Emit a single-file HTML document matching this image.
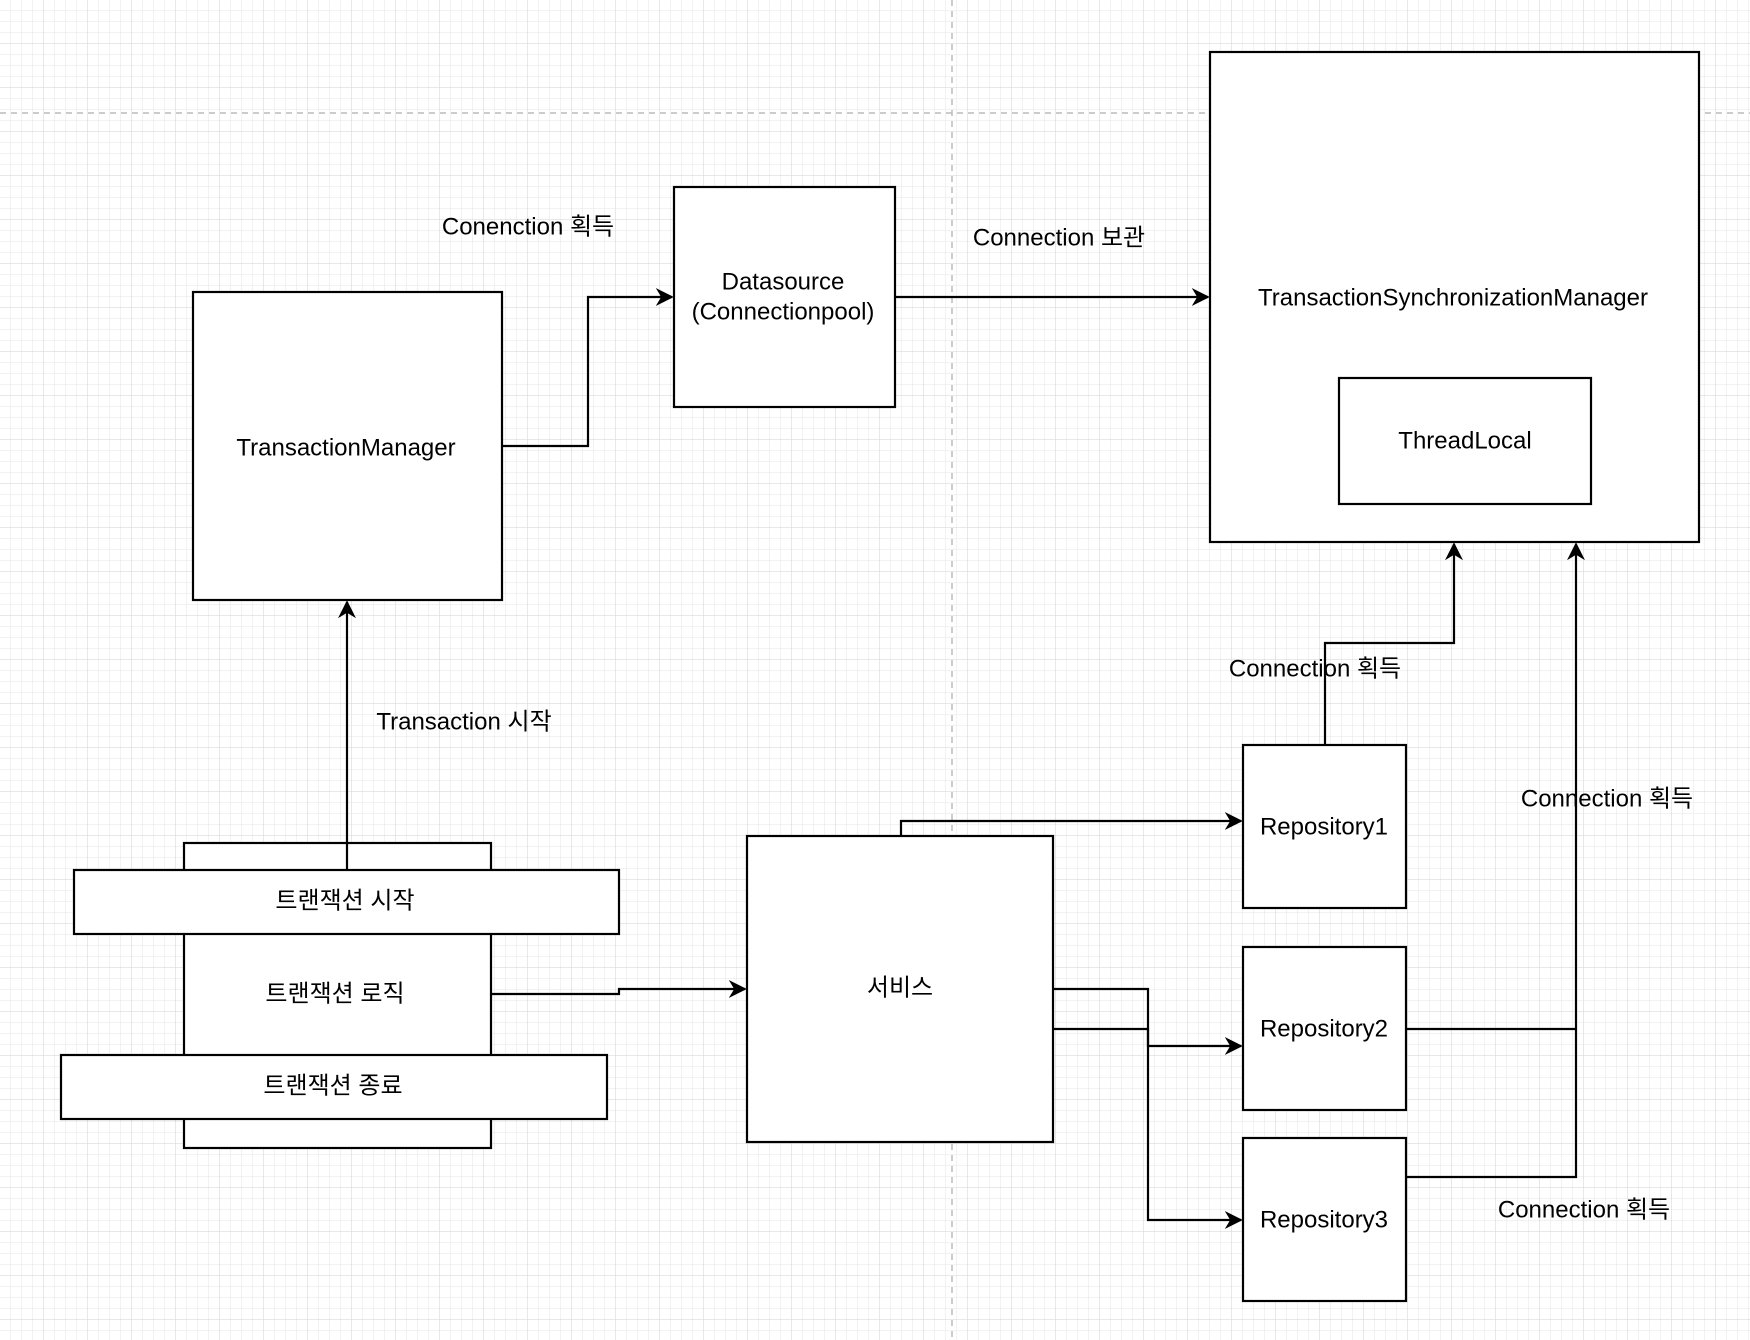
<!DOCTYPE html>
<html><head><meta charset="utf-8"><style>
html,body{margin:0;padding:0;background:#fff}
svg{display:block}
text{font-family:"Liberation Sans","Noto Sans CJK KR",sans-serif;font-size:24px;fill:#000;text-anchor:middle;dominant-baseline:central}
</style></head><body>
<svg width="1750" height="1340" viewBox="0 0 1750 1340" xmlns="http://www.w3.org/2000/svg">
<defs>
<pattern id="minor" width="11" height="11" patternUnits="userSpaceOnUse"><path d="M11 0V11H0" fill="none" stroke="#e6e6e6" stroke-width="1"/></pattern>
<pattern id="major" width="44" height="44" patternUnits="userSpaceOnUse"><rect width="44" height="44" fill="url(#minor)"/><path d="M44 0V44H0" fill="none" stroke="#d2d2d2" stroke-width="1"/></pattern>
<marker id="a" viewBox="0 0 10 10" refX="9" refY="5" markerWidth="18" markerHeight="18" markerUnits="userSpaceOnUse" orient="auto"><path d="M0 0L10 5L0 10L3 5Z" fill="#000"/></marker>
</defs>
<rect width="1750" height="1340" fill="url(#major)"/>
<line x1="952" y1="0" x2="952" y2="1340" stroke="#bbb" stroke-width="1.5" stroke-dasharray="6 5"/>
<line x1="0" y1="113" x2="1750" y2="113" stroke="#bbb" stroke-width="1.5" stroke-dasharray="6 5"/>
<g fill="#fff" stroke="#000" stroke-width="2.2">
<rect x="193" y="292" width="309" height="308"/>
<rect x="674" y="187" width="221" height="220"/>
<rect x="1210" y="52" width="489" height="490"/>
<rect x="1339" y="378" width="252" height="126"/>
<rect x="184" y="843" width="307" height="305"/>
<rect x="74" y="870" width="545" height="64"/>
<rect x="61" y="1055" width="546" height="64"/>
<rect x="747" y="836" width="306" height="306"/>
<rect x="1243" y="745" width="163" height="163"/>
<rect x="1243" y="947" width="163" height="163"/>
<rect x="1243" y="1138" width="163" height="163"/>
</g>
<g fill="none" stroke="#000" stroke-width="2.2">
<polyline points="502,446 588,446 588,297 672,297" marker-end="url(#a)"/>
<polyline points="895,297 1208,297" marker-end="url(#a)"/>
<polyline points="347,870 347,602" marker-end="url(#a)"/>
<polyline points="491,994 619,994 619,989 745,989" marker-end="url(#a)"/>
<polyline points="901,836 901,821 1241,821" marker-end="url(#a)"/>
<polyline points="1053,989 1148,989 1148,1220 1241,1220" marker-end="url(#a)"/>
<polyline points="1053,1029 1148,1029 1148,1046 1241,1046" marker-end="url(#a)"/>
<polyline points="1325,745 1325,643 1454,643 1454,544" marker-end="url(#a)"/>
<polyline points="1406,1029 1576,1029"/>
<polyline points="1406,1177 1576,1177 1576,544" marker-end="url(#a)"/>
</g>
<text x="528" y="227">Conenction 획득</text>
<text x="1059" y="238">Connection 보관</text>
<text x="783" y="282">Datasource</text>
<text x="783" y="312">(Connectionpool)</text>
<text x="1453" y="298">TransactionSynchronizationManager</text>
<text x="1465" y="441">ThreadLocal</text>
<text x="346" y="448">TransactionManager</text>
<text x="464" y="722">Transaction 시작</text>
<text x="345" y="901">트랜잭션 시작</text>
<text x="335" y="994">트랜잭션 로직</text>
<text x="333" y="1086">트랜잭션 종료</text>
<text x="900" y="988">서비스</text>
<text x="1324" y="827">Repository1</text>
<text x="1324" y="1029">Repository2</text>
<text x="1324" y="1220">Repository3</text>
<text x="1315" y="669">Connection 획득</text>
<text x="1607" y="799">Connection 획득</text>
<text x="1584" y="1210">Connection 획득</text>
</svg>
</body></html>
